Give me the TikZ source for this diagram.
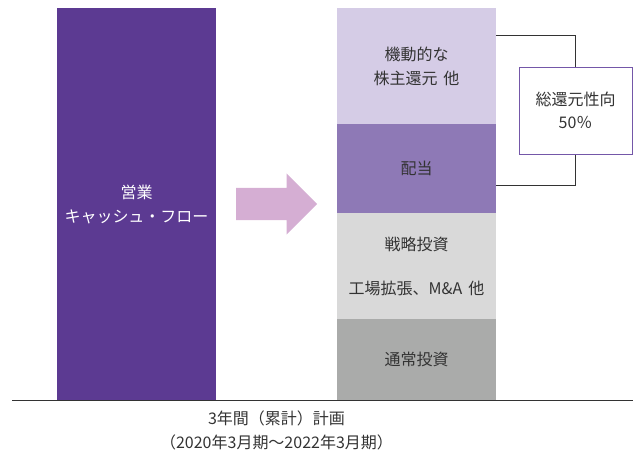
\documentclass[tikz,border=0pt]{standalone}
\usepackage{fontspec}
\setmainfont{Noto Sans CJK JP}
\usetikzlibrary{arrows.meta, positioning, shapes.arrows, calc}

\definecolor{cfpurple}{HTML}{5C3A92}
\definecolor{buyback}{HTML}{D5CCE6}
\definecolor{dividend}{HTML}{8E79B6}
\definecolor{strategic}{HTML}{D9D9D9}
\definecolor{routine}{HTML}{AAABAA}
\definecolor{flowpink}{HTML}{D5AED3}
\definecolor{labelgray}{HTML}{333333}
\definecolor{framepurple}{HTML}{7457A8}

\begin{document}
\begin{tikzpicture}[
  x=1pt, y=-1pt,
  every node/.style={font=\fontsize{16}{24}\selectfont, text=labelgray},
  bar/.style={
    rectangle,
    inner sep=0pt,
    outer sep=0pt,
    minimum width=159pt,
    align=center
  },
  bracket/.style={line width=0.8pt, draw=labelgray},
  axis/.style={line width=1pt, draw=labelgray}
]
  \useasboundingbox (0,0) rectangle (633,458);

  % operating cash flow on the left
  \node[bar, fill=cfpurple, minimum height=392pt, anchor=north west, text=white] (cash) at (57,8) {営業\\キャッシュ・フロー};

  % allocation stack on the right
  \node[bar, fill=buyback, minimum height=116pt, anchor=north west] (buyback) at (337,8) {機動的な\\株主還元\hspace{6pt}他};
  \node[bar, fill=dividend, minimum height=89pt, below=0pt of buyback] (dividend) {配当};
  \node[bar, fill=strategic, minimum height=106pt, below=0pt of dividend] (strategic) {戦略投資\\[20pt]工場拡張、M\&A\hspace{6pt}他};
  \node[bar, fill=routine, minimum height=81pt, below=0pt of strategic] (routine) {通常投資};

  % arrow between the two bars
  \node[single arrow, fill=flowpink, inner xsep=0pt, inner ysep=16pt, minimum height=81pt,
        single arrow head extend=14.5pt, single arrow head indent=0pt, anchor=tail] (flow) at (236,204) {};

  % total payout ratio
  \node[draw=framepurple, line width=1pt, fill=white, minimum width=113pt, minimum height=87pt,
        align=center, font=\fontsize{16}{23}\selectfont] (ratio) at (575.5,110.5) {総還元性向\\50％};
  \draw[bracket] ([yshift=-27pt]buyback.north east) -| (ratio.north);
  \draw[bracket] ([yshift=28pt]dividend.south east) -| (ratio.south);

  % baseline and caption
  \coordinate (axisend) at (633,400);
  \draw[axis] ([xshift=-45pt]cash.south west) -- (axisend);
  \node[align=center] (period) at ($(cash.south west)!0.5!(routine.south east)+(0,30)$) {3年間（累計）計画\\（2020年3月期～2022年3月期）};

\end{tikzpicture}
\end{document}
